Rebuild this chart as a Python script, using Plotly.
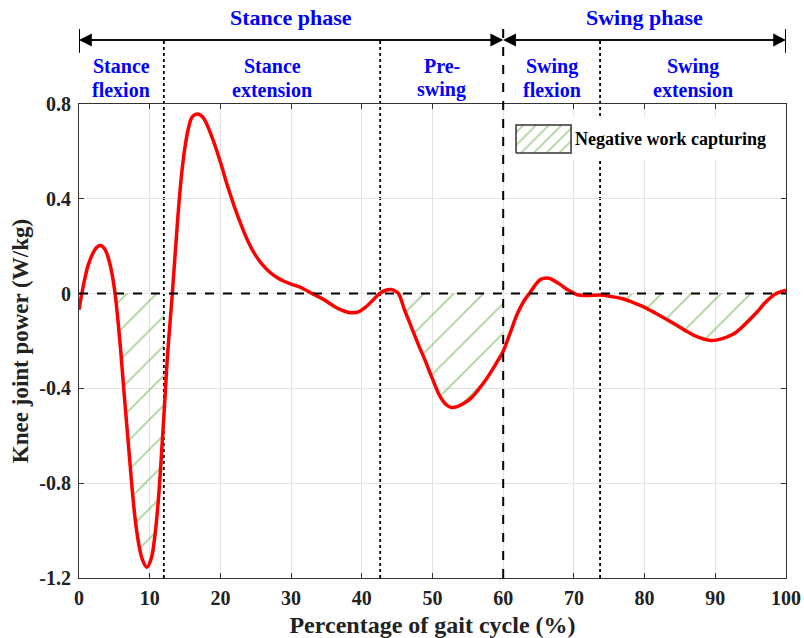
import plotly.graph_objects as go

# ---------------- data ----------------
gait_pct = [0, 0.4, 0.8, 1.3, 2, 2.5, 3.1, 3.7, 4.1, 4.6, 5.1, 5.5, 5.9, 6.45, 7, 7.5, 8, 8.5, 9,
            9.6, 10.2, 10.7, 11.2, 11.6, 12, 12.5, 13.2, 14, 14.5, 15, 15.5, 16, 16.8, 17.5, 18,
            19, 20, 21, 22, 23, 24, 25, 26, 27, 28, 29, 30, 31, 32, 33, 34, 35, 36, 37, 38,
            38.7, 39.6, 40.5, 41.5, 42.5, 43.3, 44.1, 44.7, 45.2, 46, 47, 48, 49, 50, 51, 52,
            52.6, 53.5, 54.5, 55.5, 56.5, 57.5, 58.5, 59.3, 60, 61, 62, 63, 63.7, 64.5, 65.3,
            66.3, 67, 68, 69, 70, 70.5, 71.5, 72.5, 73.7, 75, 76, 77, 78, 79, 80, 82, 84, 86,
            87.5, 89.4, 91, 92.5, 94, 95.8, 97, 98.1, 98.6, 100]
knee_power = [-0.068, 0.0, 0.06, 0.12, 0.172, 0.195, 0.203, 0.185, 0.155, 0.095, 0.0, -0.11,
              -0.24, -0.446, -0.64, -0.82, -0.965, -1.065, -1.125, -1.155, -1.12, -1.03, -0.88,
              -0.71, -0.52, -0.27, 0.0, 0.33, 0.5, 0.62, 0.7, 0.745, 0.758, 0.745, 0.72, 0.645,
              0.555, 0.455, 0.365, 0.285, 0.215, 0.16, 0.12, 0.09, 0.068, 0.052, 0.04, 0.03,
              0.016, 0.0, -0.015, -0.032, -0.052, -0.068, -0.079, -0.081, -0.076, -0.058,
              -0.03, 0.0, 0.013, 0.017, 0.011, 0.0, -0.065, -0.14, -0.215, -0.285, -0.36,
              -0.43, -0.47, -0.48, -0.477, -0.462, -0.44, -0.405, -0.366, -0.32, -0.28, -0.243,
              -0.165, -0.085, -0.028, 0.0, 0.035, 0.06, 0.066, 0.058, 0.04, 0.018, 0.002,
              -0.005, -0.008, -0.007, -0.006, -0.011, -0.016, -0.023, -0.033, -0.045, -0.058,
              -0.09, -0.124, -0.16, -0.183, -0.198, -0.19, -0.172, -0.135, -0.081, -0.04,
              -0.01, 0.0, 0.014]

# negative-work capturing intervals (start, end) in % of gait cycle
hatch_spans = [(5.1, 12.0), (45.2, 60.0), (73.7, 98.6)]

# gait phases
major_phases = ["Stance phase", "Swing phase"]
major_bounds = [0, 60, 100]
sub_phase_lines = [("Stance", "flexion"), ("Stance", "extension"), ("Pre-", "swing"),
                   ("Swing", "flexion"), ("Swing", "extension")]
sub_bounds = [0, 12, 42.6, 60, 73.7, 100]

x_ticks = [0, 10, 20, 30, 40, 50, 60, 70, 80, 90, 100]
y_ticks = [-1.2, -0.8, -0.4, 0, 0.4, 0.8]
y_ticktext = ["-1.2", "-0.8", "-0.4", "0", "0.4", "0.8"]
legend_label = "Negative work capturing"

# ---------------- styling ----------------
FONT = "Liberation Serif"
RED = "#ff0000"
GREEN = "#4ea52a"
BLUE = "#0000ff"
Y_ARROW = 1.135

fig = go.Figure()

# hatched negative-work areas
for a, b in hatch_spans:
    xs = [x for x in gait_pct if a <= x <= b]
    ys = [y for x, y in zip(gait_pct, knee_power) if a <= x <= b]
    fig.add_trace(go.Scatter(
        x=xs, y=ys, mode="lines", line=dict(width=0, shape="spline"),
        fill="tozeroy", fillcolor="rgba(0,0,0,0)",
        fillpattern=dict(shape="/", fgcolor=GREEN, bgcolor="rgba(0,0,0,0)",
                         size=21, solidity=0.08),
        showlegend=False, hoverinfo="skip"))

# main curve
fig.add_trace(go.Scatter(
    x=gait_pct, y=knee_power, mode="lines",
    line=dict(color=RED, width=3.5, shape="spline"),
    showlegend=False))

# legend box on an overlay subplot
fig.add_trace(go.Scatter(
    x=[0, 1, 1, 0, 0], y=[0, 0, 1, 1, 0], mode="lines", line=dict(width=0),
    fill="toself", fillcolor="white", xaxis="x2", yaxis="y2",
    showlegend=False, hoverinfo="skip"))
fig.add_trace(go.Scatter(
    x=[0.036, 0.234, 0.234, 0.036, 0.036], y=[0.163, 0.163, 0.814, 0.814, 0.163],
    mode="lines", line=dict(width=1.5, color="#333333"),
    fill="toself", fillcolor="white",
    fillpattern=dict(shape="/", fgcolor=GREEN, bgcolor="white", size=9, solidity=0.18),
    xaxis="x2", yaxis="y2", showlegend=False, hoverinfo="skip"))

shapes = []
# zero reference line
shapes.append(dict(type="line", xref="x", yref="y", x0=0, x1=100, y0=0, y1=0,
                   line=dict(color="black", width=2, dash="dash"), layer="above"))
# sub-phase dotted boundaries
for xb in sub_bounds[1:-1]:
    if xb in major_bounds:
        continue
    shapes.append(dict(type="line", xref="x", yref="paper", x0=xb, x1=xb, y0=0, y1=Y_ARROW,
                       line=dict(color="black", width=1.8, dash="dot"), layer="below"))
# stance/swing dashed boundary
for xb in major_bounds[1:-1]:
    shapes.append(dict(type="line", xref="x", yref="paper", x0=xb, x1=xb, y0=0, y1=1.158,
                       line=dict(color="black", width=2, dash="dash"), layer="above"))
# end bars
for xb in (major_bounds[0], major_bounds[-1]):
    shapes.append(dict(type="line", xref="x", yref="paper", x0=xb, x1=xb, y0=1.108, y1=1.158,
                       line=dict(color="black", width=2), layer="above"))

annotations = []
# phase arrows
for i in range(len(major_phases)):
    a, b = major_bounds[i], major_bounds[i + 1]
    for head, tail in ((a, b), (b, a)):
        annotations.append(dict(x=head, y=Y_ARROW, xref="x", yref="paper",
                                ax=tail, ay=0, axref="x", ayref="pixel", text="",
                                showarrow=True, arrowhead=2, arrowsize=1.6,
                                arrowwidth=1.6, arrowcolor="black"))
    annotations.append(dict(x=(a + b) / 2, y=1.1825, xref="x", yref="paper",
                            xanchor="center", yanchor="middle",
                            text=major_phases[i], showarrow=False,
                            font=dict(family=FONT, size=22, color=BLUE, weight="bold")))
# sub-phase labels
for i, (l1, l2) in enumerate(sub_phase_lines):
    xc = (sub_bounds[i] + sub_bounds[i + 1]) / 2
    for txt, yy in ((l1, 1.080), (l2, 1.030)):
        annotations.append(dict(x=xc, y=yy, xref="x", yref="paper", text=txt,
                                xanchor="center", yanchor="middle", showarrow=False,
                                font=dict(family=FONT, size=20, color=BLUE, weight="bold")))
# legend text
annotations.append(dict(x=0.241, y=0.49, xref="x2", yref="y2", xanchor="left",
                        yanchor="middle", text=legend_label, showarrow=False,
                        font=dict(family=FONT, size=18, color="black", weight="bold")))

axis_common = dict(showgrid=True, gridcolor="#e3e3e3", gridwidth=1, showline=True,
                   linecolor="#333333", linewidth=1.2, mirror="ticks", ticks="inside",
                   ticklen=5, tickcolor="#333333", zeroline=False, automargin=False,
                   tickfont=dict(family=FONT, size=20, color="#222222", weight="bold"))

fig.update_layout(
    width=804, height=638,
    margin=dict(l=79, r=18, t=104, b=60, autoexpand=False),
    paper_bgcolor="white", plot_bgcolor="rgba(0,0,0,0)",
    xaxis=dict(range=[0, 100], tickvals=x_ticks, ticklabelstandoff=2,
               title=dict(text="Percentage of gait cycle (%)", standoff=9,
                          font=dict(family=FONT, size=24, color="#222222", weight="bold")),
               **axis_common),
    yaxis=dict(range=[-1.2, 0.8], tickvals=y_ticks, ticktext=y_ticktext,
               ticklabelstandoff=3,
               title=dict(text="Knee joint power (W/kg)", standoff=4,
                          font=dict(family=FONT, size=23, color="#222222", weight="bold")),
               **axis_common),
    xaxis2=dict(domain=[0.604, 0.997], range=[0, 1], visible=False, anchor="y2",
                fixedrange=True),
    yaxis2=dict(domain=[0.882, 0.9726], range=[0, 1], visible=False, anchor="x2",
                fixedrange=True),
    shapes=shapes, annotations=annotations, showlegend=False,
)

fig.write_html("out.html")
